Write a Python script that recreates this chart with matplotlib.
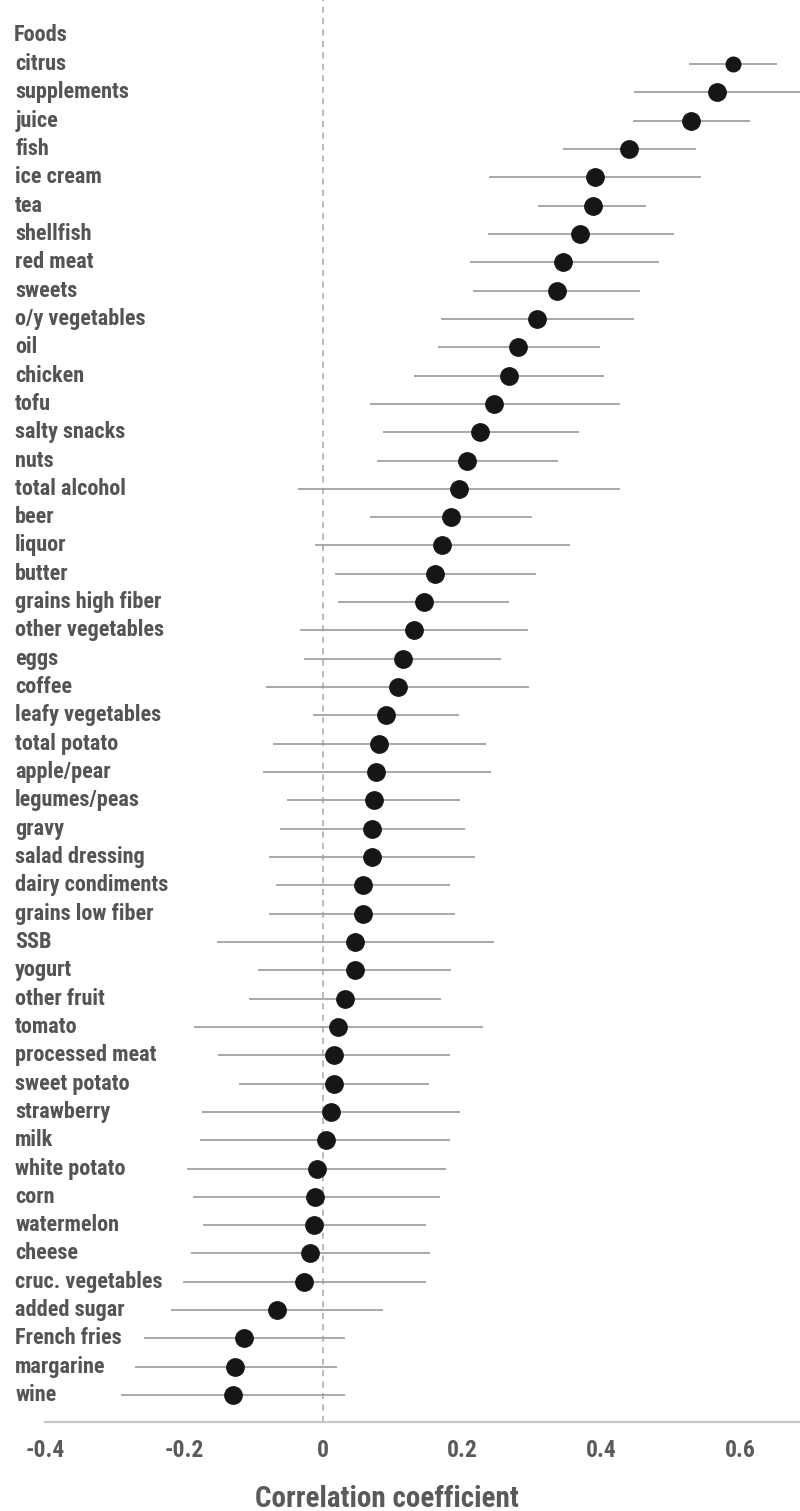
import matplotlib

matplotlib.use("Agg")
import matplotlib.pyplot as plt  # noqa: E402
import matplotlib.transforms as mtransforms  # noqa: E402
from matplotlib import font_manager as fm  # noqa: E402

# correlation of each food group with the biomarker, 95% CI
foods = [
    "citrus", "supplements", "juice", "fish", "ice cream", "tea", "shellfish",
    "red meat", "sweets", "o/y vegetables", "oil", "chicken", "tofu",
    "salty snacks", "nuts", "total alcohol", "beer", "liquor", "butter",
    "grains high fiber", "other vegetables", "eggs", "coffee",
    "leafy vegetables", "total potato", "apple/pear", "legumes/peas", "gravy",
    "salad dressing", "dairy condiments", "grains low fiber", "SSB", "yogurt",
    "other fruit", "tomato", "processed meat", "sweet potato", "strawberry",
    "milk", "white potato", "corn", "watermelon", "cheese",
    "cruc. vegetables", "added sugar", "French fries", "margarine", "wine",
]
r = [
    0.590, 0.567, 0.530, 0.440, 0.391, 0.388, 0.370,
    0.345, 0.337, 0.308, 0.281, 0.268, 0.246,
    0.226, 0.207, 0.195, 0.184, 0.171, 0.161,
    0.145, 0.131, 0.115, 0.108,
    0.090, 0.081, 0.076, 0.073, 0.071,
    0.071, 0.058, 0.057, 0.046, 0.046,
    0.031, 0.021, 0.016, 0.016, 0.012,
    0.004, -0.009, -0.011, -0.013, -0.018,
    -0.027, -0.066, -0.114, -0.126, -0.130,
]
lo = [
    0.527, 0.447, 0.446, 0.345, 0.239, 0.309, 0.237,
    0.211, 0.216, 0.170, 0.166, 0.131, 0.068,
    0.087, 0.078, -0.036, 0.068, -0.011, 0.017,
    0.021, -0.033, -0.027, -0.082,
    -0.014, -0.072, -0.087, -0.052, -0.062,
    -0.077, -0.068, -0.077, -0.153, -0.093,
    -0.107, -0.185, -0.151, -0.121, -0.174,
    -0.177, -0.196, -0.187, -0.173, -0.190,
    -0.201, -0.219, -0.258, -0.270, -0.290,
]
hi = [
    0.653, 0.700, 0.614, 0.536, 0.544, 0.465, 0.505,
    0.483, 0.456, 0.448, 0.399, 0.405, 0.427,
    0.369, 0.338, 0.427, 0.300, 0.355, 0.306,
    0.268, 0.295, 0.256, 0.297,
    0.196, 0.235, 0.242, 0.197, 0.204,
    0.219, 0.183, 0.190, 0.246, 0.184,
    0.170, 0.230, 0.183, 0.153, 0.197,
    0.183, 0.177, 0.168, 0.148, 0.154,
    0.148, 0.087, 0.031, 0.020, 0.031,
]
xticks = [-0.4, -0.2, 0, 0.2, 0.4, 0.6]
xticklabels = ["-0.4", "-0.2", "0", "0.2", "0.4", "0.6"]

# narrow sans if one is around, plain Arial-metric otherwise
_installed = {f.name for f in fm.fontManager.ttflist}
_narrow = ["Liberation Sans Narrow", "Arial Narrow", "Roboto Condensed",
           "Archivo Narrow", "PT Sans Narrow"]
FONT = [f for f in _narrow if f in _installed][:1] + ["Liberation Sans", "DejaVu Sans"]
LABEL_C = "#545454"

plt.rcParams["font.family"] = FONT

fig = plt.figure(figsize=(8.0, 15.11), dpi=100)
ax = fig.add_axes([0.0, 1 - 1422 / 1511, 1.0, 1422 / 1511])

n = len(foods)
ys = list(range(n))

ax.axvline(0, color="#a8a8a8", lw=1.1, ls=(0, (4, 3.5)), zorder=1)
ax.hlines(ys, lo, hi, color="#9a9a9a", lw=1.2, zorder=2)
sizes = [10.5] + [12.5] * (n - 1)
for y, v, ms in zip(ys, r, sizes):
    ax.plot(v, y, "o", ms=ms, color="#161616", mec="#161616", zorder=3)

ax.set_xlim(-323 / 695, 477 / 695)
ax.set_ylim(47.95, -2.26)

trans = mtransforms.blended_transform_factory(ax.transAxes, ax.transData)
ax.text(0.017, -1.02, "Foods", transform=trans, ha="left", va="center",
        fontsize=16, fontweight="bold", color=LABEL_C)
for y, name in zip(ys, foods):
    ax.text(0.019, y, name, transform=trans, ha="left", va="center",
            fontsize=16, fontweight="bold", color=LABEL_C)

for side in ("top", "right", "left"):
    ax.spines[side].set_visible(False)
ax.spines["bottom"].set_color("#c8c8c8")
ax.spines["bottom"].set_linewidth(1.6)
ax.spines["bottom"].set_bounds(-0.4, 477 / 695)

ax.set_yticks([])
ax.set_xticks(xticks)
ax.set_xticklabels(xticklabels, fontsize=17, fontweight="bold", color="#5a5a5a")
ax.tick_params(axis="x", length=0, pad=12)

fig.text(387 / 800, 1 - 1499 / 1511, "Correlation coefficient", ha="center",
         va="center", fontsize=21, fontweight="bold", color="#5a5a5a")

fig.savefig("out.png", dpi=100)
plt.close(fig)
